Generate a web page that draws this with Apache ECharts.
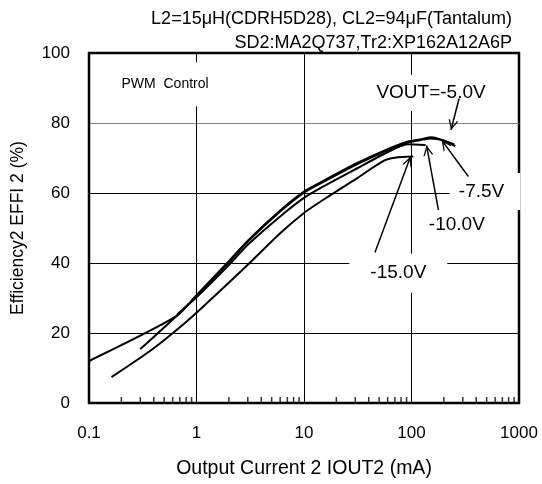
<!DOCTYPE html>
<html>
<head>
<meta charset="utf-8">
<script src="https://cdn.jsdelivr.net/npm/echarts@6/dist/echarts.min.js"></script>
<style>
html, body { margin: 0; padding: 0; background: #fff; }
#chart { width: 542px; height: 484px; }
</style>
</head>
<body>
<div id="chart"></div>
<script>
// efficiency curves, [IOUT2 mA, EFFI2 %]
var vout5 = [[0.1, 12.0], [0.65, 24.8], [1, 30.8], [2, 40.5], [3, 46.4], [6, 55.0], [10, 60.4], [15, 63.4], [31, 68.5], [63, 72.8], [93, 74.7], [120, 75.3], [155, 75.9], [190, 75.2], [250, 73.9]];
var vout75 = [[0.3, 15.4], [0.69, 25.6], [1, 30.6], [2, 40.2], [3, 46.1], [6, 54.7], [10, 60.1], [15, 63.1], [31, 68.2], [63, 72.5], [93, 74.5], [120, 75.1], [150, 75.6], [195, 75.1], [255, 73.4]];
var vout10 = [[0.66, 25.3], [1, 30.2], [2, 39.4], [3, 45.2], [6, 53.3], [10, 58.6], [15, 61.8], [31, 67.0], [63, 72.0], [93, 73.9], [135, 73.7]];
var vout15 = [[0.162, 7.4], [0.364, 14.7], [0.6, 19.9], [1, 25.8], [3, 39.5], [6, 48.5], [10, 54.3], [15, 58.0], [31, 64.2], [55, 69.2], [70, 70.1], [104, 70.4]];

var seriesNames = ['-5.0V', '-7.5V', '-10.0V', '-15.0V'];
var xTicks = [0.1, 1, 10, 100, 1000];
var xMinorTicks = [0.2, 0.3, 0.4, 0.5, 0.6, 0.7, 0.8, 0.9, 2, 3, 4, 5, 6, 7, 8, 9,
  20, 30, 40, 50, 60, 70, 80, 90, 200, 300, 400, 500, 600, 700, 800, 900];

// annotation texts at [x, y] and arrows [tail, tip]
var labels = [
  { text: 'PWM  Control', at: [0.51, 91.1] },
  { text: 'VOUT=-5.0V', at: [152, 88.6] },
  { text: '-7.5V', at: [483, 60.4] },
  { text: '-10.0V', at: [264, 50.9] },
  { text: '-15.0V', at: [75.4, 37.1] }
];
var arrows = [
  [[277, 87.0], [233, 78.0]],
  [[338, 64.7], [191, 75.1]],
  [[178, 55.2], [138, 73.6]],
  [[45.7, 43.0], [98, 70.4]]
];

var FONT = 'Liberation Sans, Arial, sans-serif';
var arrowHead = 'path://M-14,-14L-14,-13.99L-13.99,-14Z M14,14L14,13.99L13.99,14Z M0,0L7,14L5,14L0,4L-5,14L-7,14Z';

var labelPads = {
  'PWM  Control': [16, 12, 14, 12],
  'VOUT=-5.0V': [3, 6, 14, 6],
  '-7.5V': [9, 16, 9, 9],
  '-10.0V': [4, 6, 4, 6],
  '-15.0V': [10, 21, 10, 21]
};

var chart = echarts.init(document.getElementById('chart'));

function curve(name, data) {
  return {
    name: name,
    type: 'line',
    data: data,
    showSymbol: false,
    smooth: 0.25,
    lineStyle: { color: '#000', width: 2 },
    z: 3
  };
}

var series = [
  curve(seriesNames[0], vout5),
  curve(seriesNames[1], vout75),
  curve(seriesNames[2], vout10),
  curve(seriesNames[3], vout15)
];

series[0].markPoint = {
  z: 4,
  silent: true,
  symbol: 'rect',
  symbolSize: 0,
  data: labels.map(function (l) {
    return {
      coord: l.at,
      label: {
        show: true,
        position: 'inside',
        formatter: l.text,
        color: '#000',
        fontFamily: FONT,
        fontSize: l.text === 'PWM  Control' ? 14 : 19,
        backgroundColor: '#fff',
        padding: labelPads[l.text]
      }
    };
  })
};

series[3].markLine = {
  z: 6,
  silent: true,
  symbol: ['none', arrowHead],
  symbolSize: 20,
  label: { show: false },
  lineStyle: { color: '#000', width: 1.5, type: 'solid' },
  data: arrows.map(function (a) {
    return [{ coord: a[0] }, { coord: a[1] }];
  })
};

series.push({
  name: 'minor',
  type: 'scatter',
  data: xMinorTicks.map(function (v) { return [v, 0]; }),
  symbol: 'rect',
  symbolSize: [1.5, 6],
  symbolOffset: [0, -3],
  itemStyle: { color: '#000' },
  silent: true,
  clip: false,
  z: 5
});

var option = {
  animation: false,
  textStyle: { fontFamily: FONT },
  title: [
    {
      text: 'L2=15\u03bcH(CDRH5D28), CL2=94\u03bcF(Tantalum)',
      right: 25, top: 5,
      textStyle: { fontSize: 18, fontWeight: 'normal', color: '#000', fontFamily: FONT }
    },
    {
      text: 'SD2:MA2Q737,Tr2:XP162A12A6P',
      right: 25, top: 29,
      textStyle: { fontSize: 18, fontWeight: 'normal', color: '#000', fontFamily: FONT }
    }
  ],
  grid: {
    left: 89, right: 23, top: 53, bottom: 81,
    show: true, borderColor: '#000', borderWidth: 2.5, backgroundColor: 'transparent'
  },
  xAxis: {
    type: 'log',
    logBase: 10,
    min: xTicks[0],
    max: xTicks[xTicks.length - 1],
    name: 'Output Current 2 IOUT2 (mA)',
    nameLocation: 'middle',
    nameGap: 56,
    nameTextStyle: { fontSize: 19.5, color: '#000', fontFamily: FONT },
    axisLine: { show: false },
    axisTick: { show: false },
    axisLabel: {
      fontSize: 17, color: '#000', margin: 22, fontFamily: FONT,
      formatter: function (v) { return String(v); }
    },
    splitLine: { show: true, lineStyle: { color: '#000', width: 1 } }
  },
  yAxis: {
    type: 'value',
    min: 0,
    max: 100,
    interval: 20,
    name: 'Efficiency2 EFFI 2 (%)',
    nameLocation: 'middle',
    nameGap: 62,
    nameTextStyle: { fontSize: 17.5, color: '#000', fontFamily: FONT },
    axisLine: { show: false },
    axisTick: { show: false },
    axisLabel: { fontSize: 17, color: '#000', margin: 19, fontFamily: FONT },
    splitLine: {
      show: true,
      lineStyle: { color: ['#000', '#000', '#000', '#000', '#808080', '#000'], width: 1 }
    }
  },
  series: series
};

chart.setOption(option);
window.addEventListener('resize', function () {
  chart.resize();
});
</script>
</body>
</html>
